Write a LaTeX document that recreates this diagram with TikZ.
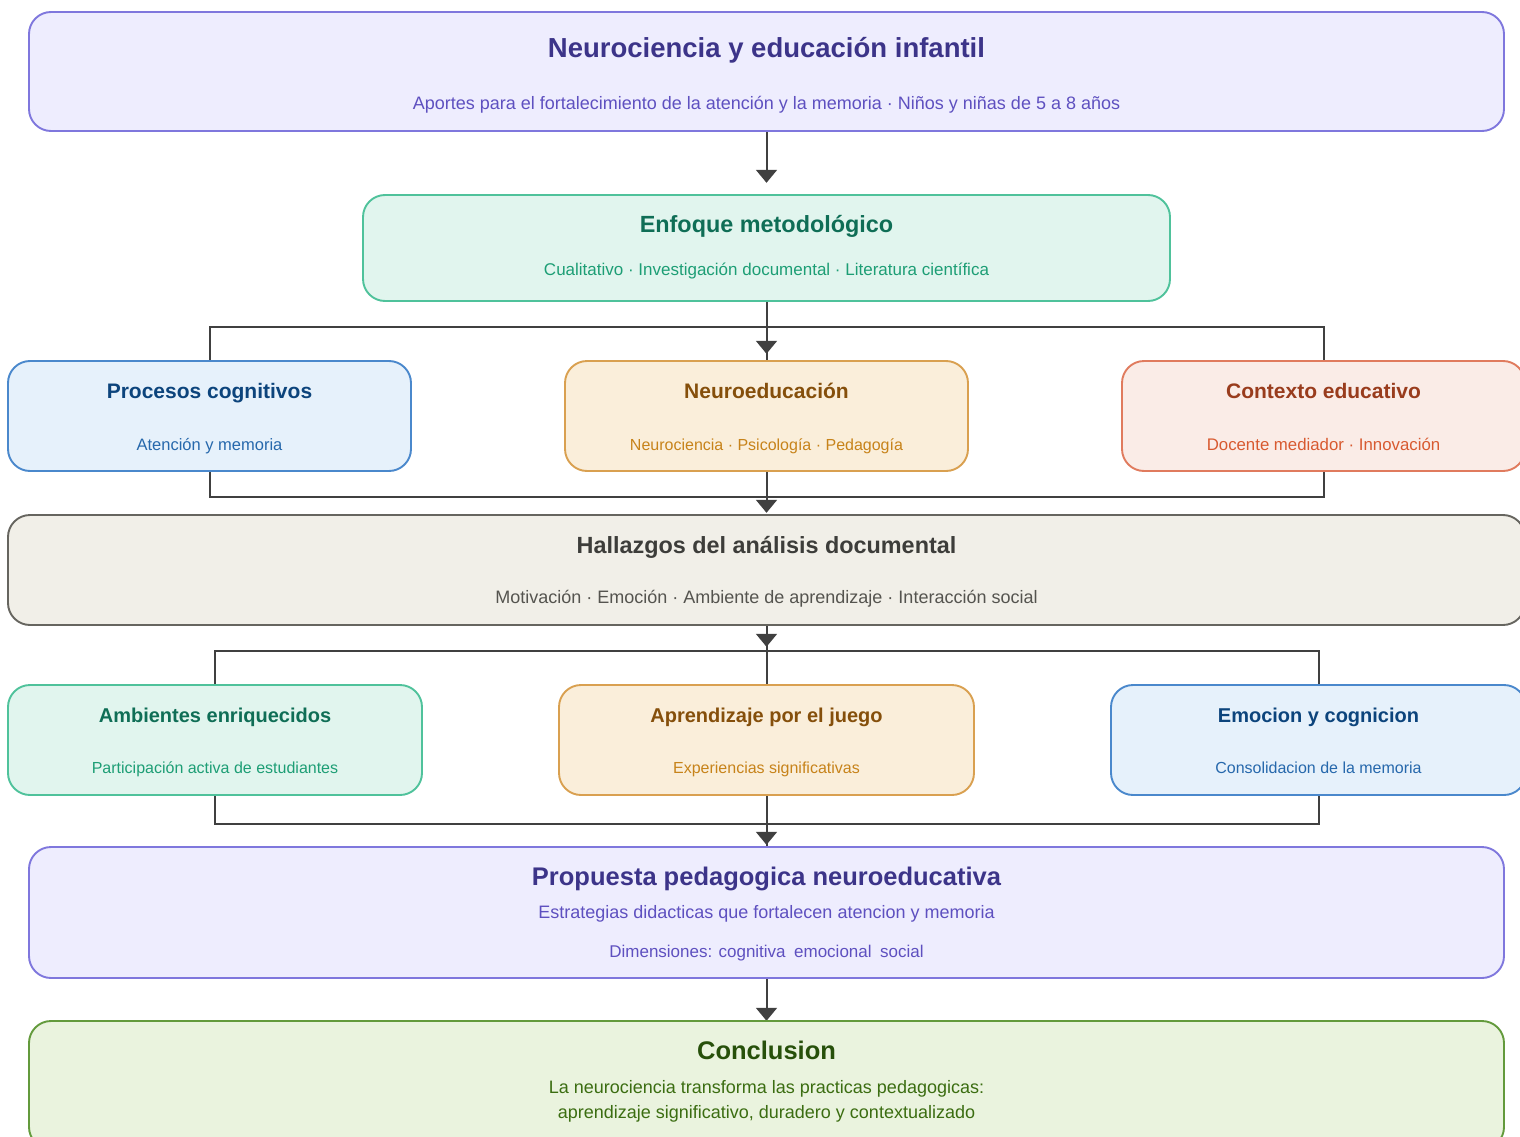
\documentclass[tikz,border=0pt]{standalone}
\usepackage{fontspec}
\setmainfont{Liberation Sans}
\usetikzlibrary{arrows.meta,calc}
\definecolor{puF}{HTML}{EEEDFE}\definecolor{puD}{HTML}{7F77DD}\definecolor{puT}{HTML}{3C3489}\definecolor{puS}{HTML}{5E50C0}
\definecolor{teF}{HTML}{E1F5EE}\definecolor{teD}{HTML}{4FC29B}\definecolor{teT}{HTML}{0F6E56}\definecolor{teS}{HTML}{1D9E75}
\definecolor{blF}{HTML}{E6F1FB}\definecolor{blD}{HTML}{4A88CC}\definecolor{blT}{HTML}{0C447C}\definecolor{blS}{HTML}{2668AC}
\definecolor{amF}{HTML}{FAEEDA}\definecolor{amD}{HTML}{D9A050}\definecolor{amT}{HTML}{854F0B}\definecolor{amS}{HTML}{C7831A}
\definecolor{coF}{HTML}{FAECE7}\definecolor{coD}{HTML}{E07B5E}\definecolor{coT}{HTML}{993C1D}\definecolor{coS}{HTML}{D85A30}
\definecolor{grF}{HTML}{F1EFE8}\definecolor{grD}{HTML}{66655F}\definecolor{grT}{HTML}{3D3D3A}\definecolor{grS}{HTML}{55544F}
\definecolor{gnF}{HTML}{EAF3DE}\definecolor{gnD}{HTML}{639A3C}\definecolor{gnT}{HTML}{27500A}\definecolor{gnS}{HTML}{3B6D11}
\definecolor{lineC}{HTML}{404040}
\tikzset{
  box/.style={rectangle,rounded corners=22pt,line width=1.9pt,inner sep=0pt,outer sep=0pt},
  pu/.style={box,fill=puF,draw=puD},
  te/.style={box,fill=teF,draw=teD},
  bl/.style={box,fill=blF,draw=blD},
  am/.style={box,fill=amF,draw=amD},
  co/.style={box,fill=coF,draw=coD},
  gr/.style={box,fill=grF,draw=grD},
  gn/.style={box,fill=gnF,draw=gnD},
  txt/.style={anchor=base,inner sep=0pt},
  conn/.style={draw=lineC,line width=2pt},
  arr/.style={-{Triangle[width=21pt,length=13pt]}},
}
\newcommand{\fs}[1]{\fontsize{#1}{#1}\selectfont}
\begin{document}
\begin{tikzpicture}[x=1pt,y=-1pt]
\useasboundingbox (0,0) rectangle (1520,1137);
\clip (0,0) rectangle (1520,1137);
% node frames (positions), connectors, then box faces on top
\path
 (766.5,71.5) node[minimum width=1475pt,minimum height=119pt] (top) {}
 (766.5,248) node[minimum width=807pt,minimum height=106pt] (enf) {}
 (209.5,416) node[minimum width=403pt,minimum height=110pt] (proc) {}
 (766.5,416) node[minimum width=403pt,minimum height=110pt] (neu) {}
 (1323.5,416) node[minimum width=403pt,minimum height=110pt] (ctx) {}
 (766.5,570) node[minimum width=1517pt,minimum height=110pt] (hal) {}
 (215,740) node[minimum width=414pt,minimum height=110pt] (amb) {}
 (766.5,740) node[minimum width=415pt,minimum height=110pt] (apr) {}
 (1318.5,740) node[minimum width=415pt,minimum height=110pt] (emo) {}
 (766.5,912.5) node[minimum width=1475pt,minimum height=131pt] (prop) {}
 (766.5,1085) node[minimum width=1475pt,minimum height=128pt] (conc) {};
% connectors
\draw[conn,arr] (top.south) -- ($(enf.north)+(0,-12)$);
\draw[conn] (enf.south) -- (neu.north);
\draw[conn] (enf.south) ++(0,26) -| (proc.north);
\draw[conn] (enf.south) ++(0,26) -| (ctx.north);
\draw[conn,arr] (enf.south) -- ($(neu.north)+(0,-7)$);
\draw[conn] (proc.south) |- ($(neu.south)+(0,26)$) -| (ctx.south);
\draw[conn,arr] (neu.south) -- ($(hal.north)+(0,-2)$);
\draw[conn] (hal.south) -- (apr.north);
\draw[conn] (amb.north) |- ($(apr.north)+(0,-34)$) -| (emo.north);
\draw[conn,arr] (hal.south) -- ($(apr.north)+(0,-38)$);
\draw[conn] (amb.south) |- ($(apr.south)+(0,29)$) -| (emo.south);
\draw[conn] (apr.south) -- (prop.north);
\draw[conn,arr] (apr.south) -- ($(prop.north)+(0,-2)$);
\draw[conn,arr] (prop.south) -- (conc.north);
% box faces
\node[pu,minimum width=1475pt,minimum height=119pt] at (top) {};
\node[te,minimum width=807pt,minimum height=106pt] at (enf) {};
\node[bl,minimum width=403pt,minimum height=110pt] at (proc) {};
\node[am,minimum width=403pt,minimum height=110pt] at (neu) {};
\node[co,minimum width=403pt,minimum height=110pt] at (ctx) {};
\node[gr,minimum width=1517pt,minimum height=110pt] at (hal) {};
\node[te,minimum width=414pt,minimum height=110pt] at (amb) {};
\node[am,minimum width=415pt,minimum height=110pt] at (apr) {};
\node[bl,minimum width=415pt,minimum height=110pt] at (emo) {};
\node[pu,minimum width=1475pt,minimum height=131pt] at (prop) {};
\node[gn,minimum width=1475pt,minimum height=128pt] at (conc) {};
% texts
\node[txt,text=puT] (topT) at (766.5,57.5) {\fs{27.5}\bfseries Neurociencia y educación infantil};
\node[txt,text=puS] (topS) at (766.5,109.5) {\fs{18}Aportes para el fortalecimiento de la atención y la memoria · Niños y niñas de 5 a 8 años};
\node[txt,text=teT] (enfT) at (766.5,232.5) {\fs{23.4}\bfseries Enfoque metodológico};
\node[txt,text=teS] (enfS) at (766.5,275) {\fs{17}Cualitativo · Investigación documental · Literatura científica};
\node[txt,text=blT] (procT) at (209.5,398.5) {\fs{21}\bfseries Procesos cognitivos};
\node[txt,text=blS] (procS) at (209.5,450) {\fs{16.5}Atención y memoria};
\node[txt,text=amT] (neuT) at (766.5,398.5) {\fs{21}\bfseries Neuroeducación};
\node[txt,text=amS] (neuS) at (766.5,450) {\fs{16}Neurociencia · Psicología · Pedagogía};
\node[txt,text=coT] (ctxT) at (1323.5,398.5) {\fs{21}\bfseries Contexto educativo};
\node[txt,text=coS] (ctxS) at (1323.5,450) {\fs{16.8}Docente mediador · Innovación};
\node[txt,text=grT] (halT) at (766.5,553.5) {\fs{23.4}\bfseries Hallazgos del análisis documental};
\node[txt,text=grS] (halS) at (766.5,603.5) {\fs{18}Motivación · Emoción · Ambiente de aprendizaje · Interacción social};
\node[txt,text=teT] (ambT) at (215,722) {\fs{20}\bfseries Ambientes enriquecidos};
\node[txt,text=teS] (ambS) at (215,773) {\fs{16}Participación activa de estudiantes};
\node[txt,text=amT] (aprT) at (766.5,722) {\fs{20}\bfseries Aprendizaje por el juego};
\node[txt,text=amS] (aprS) at (766.5,773) {\fs{16}Experiencias significativas};
\node[txt,text=blT] (emoT) at (1318.5,722) {\fs{20}\bfseries Emocion y cognicion};
\node[txt,text=blS] (emoS) at (1318.5,773) {\fs{16}Consolidacion de la memoria};
\node[txt,text=puT] (propT) at (766.5,885) {\fs{25.5}\bfseries Propuesta pedagogica neuroeducativa};
\node[txt,text=puS] (propS) at (766.5,918) {\fs{18}Estrategias didacticas que fortalecen atencion y memoria};
\node[txt,text=puS] (propD) at (766.5,957) {\fs{17}Dimensiones: cognitiva\hspace{0.5em}emocional\hspace{0.5em}social};
\node[txt,text=gnT] (concT) at (766.5,1059) {\fs{25.5}\bfseries Conclusion};
\node[txt,text=gnS] (concS) at (766.5,1093) {\fs{18}La neurociencia transforma las practicas pedagogicas:};
\node[txt,text=gnS] (concS2) at (766.5,1118) {\fs{18}aprendizaje significativo, duradero y contextualizado};
\end{tikzpicture}
\end{document}
